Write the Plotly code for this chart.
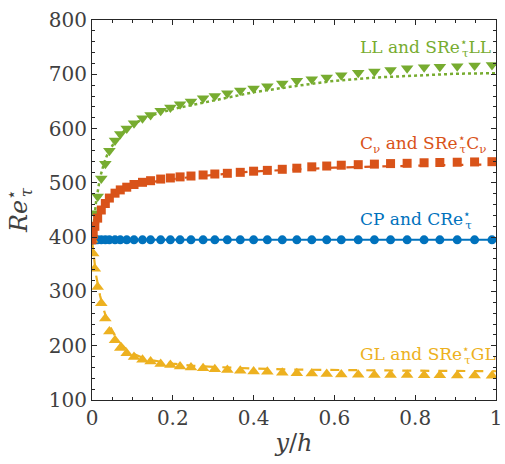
import plotly.graph_objects as go

# Marker positions across the half channel (wall at y/h = 0, centreline at y/h = 1)
y_h_markers = [0.0, 0.003, 0.007, 0.014, 0.023, 0.033, 0.043, 0.057, 0.070, 0.086,
               0.104, 0.125, 0.145, 0.170, 0.194, 0.218, 0.245, 0.275, 0.304, 0.335,
               0.367, 0.400, 0.434, 0.471, 0.507, 0.544, 0.581, 0.617, 0.659, 0.699,
               0.739, 0.780, 0.822, 0.861, 0.904, 0.947, 0.990]

# Semi-local Reynolds number profiles (markers)
cp_markers = [395] * len(y_h_markers)
ll_markers = [397, 420, 444, 475, 508, 535, 559, 578, 590, 600,
              610, 619, 625, 633, 639, 645, 650, 656, 660, 665,
              670, 674, 678, 683, 688, 691, 694, 698, 703, 705,
              708, 711, 713, 714, 715, 716, 717]
cnu_markers = [395, 405, 420, 435, 450, 462, 472, 481, 487, 492,
               497, 501, 504, 507, 509, 511, 512.6, 514.5, 516.3, 517.6,
               519.4, 521.5, 523, 525, 527, 529.5, 531, 532.5, 533.5, 534.5,
               535.5, 536, 537, 537.5, 538, 538.5, 539]
gl_markers = [395, 370, 342, 308, 278, 250, 226, 210, 196, 186,
              179, 174, 171, 166.5, 164.5, 161.5, 160, 158.4, 156.6, 155.3,
              154, 152.5, 152, 150.4, 149.2, 149, 148, 147, 146.5, 146,
              146, 146, 145.5, 145.5, 145, 145, 144.5]

# Scaled profiles (lines)
y_h_lines = [0.0, 0.005, 0.01, 0.02, 0.03, 0.04, 0.06, 0.08, 0.1, 0.125,
             0.15, 0.2, 0.25, 0.3, 0.35, 0.4, 0.5, 0.6, 0.7, 0.8, 0.9, 1.0]
cp_line = [395] * len(y_h_lines)
ll_line = [395, 435, 465, 510, 537, 556, 580, 596, 607, 617,
           625, 636, 644, 652, 660, 667, 678, 688, 694, 698, 701, 702]
cnu_line = [395, 415, 430, 450, 462, 472, 484, 490, 495, 499,
            502, 507, 511, 515, 518, 521, 525, 528, 530, 532, 533, 534]
gl_line = [395, 360, 330, 292, 264, 242, 214, 197, 186, 178,
           173, 167, 163, 161, 159, 158, 156, 155, 154.5, 154, 153.5, 153]

# Axis ticks
x_ticks = [0, 0.2, 0.4, 0.6, 0.8, 1]
x_tick_text = ["0", "0.2", "0.4", "0.6", "0.8", "1"]
y_ticks = [100, 200, 300, 400, 500, 600, 700, 800]

BLUE = "#0072BD"
ORANGE = "#D95319"
YELLOW = "#EDB120"
GREEN = "#77AC30"
AXIS = "#262626"
TXT = "#404040"
SERIF = "DejaVu Serif"

fig = go.Figure()

# lines first, markers on top
fig.add_trace(go.Scatter(x=y_h_lines, y=cp_line, mode="lines",
                         line=dict(color=BLUE, width=2)))
fig.add_trace(go.Scatter(x=y_h_lines, y=gl_line, mode="lines",
                         line=dict(color=YELLOW, width=2.2, dash="dash")))
fig.add_trace(go.Scatter(x=y_h_lines, y=ll_line, mode="lines",
                         line=dict(color=GREEN, width=2.5, dash="dot")))
fig.add_trace(go.Scatter(x=y_h_lines, y=cnu_line, mode="lines",
                         line=dict(color=ORANGE, width=2.2, dash="dash")))

fig.add_trace(go.Scatter(x=y_h_markers, y=cp_markers, mode="markers",
                         marker=dict(symbol="circle", size=9, color=BLUE)))
fig.add_trace(go.Scatter(x=y_h_markers, y=gl_markers, mode="markers",
                         marker=dict(symbol="triangle-up", size=11, color=YELLOW)))
fig.add_trace(go.Scatter(x=y_h_markers, y=ll_markers, mode="markers",
                         marker=dict(symbol="triangle-down", size=11, color=GREEN)))
fig.add_trace(go.Scatter(x=y_h_markers, y=cnu_markers, mode="markers",
                         marker=dict(symbol="square", size=9, color=ORANGE)))

# star superscript with the tau subscript tucked underneath it
STAR = '<sup><span style="letter-spacing:-0.5em">⋆</span></sup><sub>τ</sub>'
labels = [
    ("LL and SRe" + STAR + "LL", 750, GREEN),
    ("C<sub>ν</sub> and SRe" + STAR + "C<sub>ν</sub>", 573, ORANGE),
    ("CP and CRe" + STAR, 432, BLUE),
    ("GL and SRe" + STAR + "GL", 183, YELLOW),
]
for text, yv, col in labels:
    fig.add_annotation(x=0.658, y=yv, xref="x", yref="y", text=text,
                       showarrow=False, xanchor="left", yanchor="middle",
                       font=dict(family=SERIF, size=17, color=col))

axis_common = dict(
    showgrid=False, zeroline=False, showline=True, linecolor=AXIS, linewidth=1,
    mirror="ticks", ticks="inside", tickcolor=AXIS, ticklen=5, tickwidth=1,
    ticklabeloverflow="allow",
    tickfont=dict(family=SERIF, size=20, color=TXT),
)

fig.update_xaxes(
    range=[0, 1], tickvals=x_ticks, ticktext=x_tick_text,
    minor=dict(dtick=0.05, ticks="inside", ticklen=3, tickcolor=AXIS),
    title=dict(text="<i>y</i>/<i>h</i>", font=dict(family=SERIF, size=24, color=TXT),
               standoff=5),
    **axis_common,
)
fig.update_yaxes(
    range=[100, 800], tickvals=y_ticks,
    minor=dict(dtick=20, ticks="inside", ticklen=3, tickcolor=AXIS),
    title=dict(text='<i>Re</i><sup><span style="letter-spacing:-0.5em">⋆</span></sup><sub><i>τ</i></sub>',
               font=dict(family=SERIF, size=24, color=TXT), standoff=14),
    **axis_common,
)

fig.update_layout(
    width=505, height=464,
    margin=dict(l=92, r=3, t=20, b=64),
    paper_bgcolor="white", plot_bgcolor="white",
    showlegend=False,
)

fig.write_html("out.html")
